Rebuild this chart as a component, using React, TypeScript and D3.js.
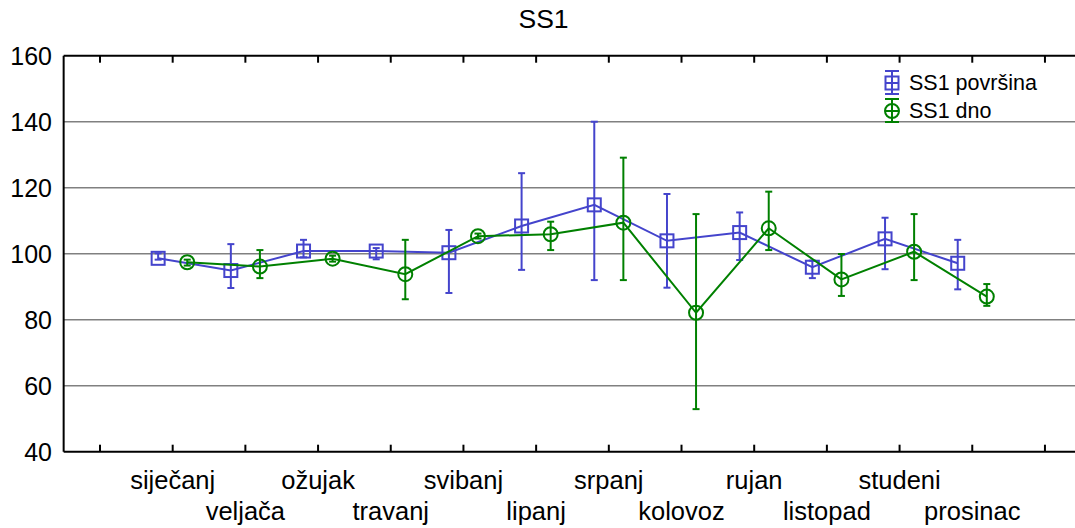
import React from "react";
import * as d3 from "d3";

const title = "SS1";
const months = ["siječanj", "veljača", "ožujak", "travanj", "svibanj", "lipanj", "srpanj", "kolovoz", "rujan", "listopad", "studeni", "prosinac"];
const seriesNames = ["SS1 površina", "SS1 dno"];

const povrsinaMean = [98.6, 94.9, 100.8, 100.8, 100.3, 108.4, 114.8, 103.9, 106.4, 95.9, 104.5, 97.1];
const povrsinaLow = [98.2, 89.6, 98.9, 98.3, 88.1, 95.1, 92.0, 89.7, 98.1, 92.6, 95.3, 89.2];
const povrsinaHigh = [100.1, 102.9, 104.2, 101.7, 107.2, 124.4, 140.0, 118.1, 112.5, 97.9, 110.9, 104.2];

const dnoMean = [97.4, 96.1, 98.5, 93.8, 105.3, 105.9, 109.4, 82.1, 107.7, 92.2, 100.6, 87.0];
const dnoLow = [96.4, 92.6, 97.6, 86.2, 104.6, 101.1, 92.0, 52.9, 101.1, 87.2, 92.0, 84.2];
const dnoHigh = [98.2, 101.1, 99.4, 104.2, 106.1, 109.7, 129.1, 112.0, 118.8, 99.9, 112.0, 90.8];

const yTicks = [40, 60, 80, 100, 120, 140, 160];

const W = 1075;
const H = 528;
const FONT = "'Liberation Sans', Arial, sans-serif";
const BLUE = "#4444CC";
const GREEN = "#008000";

export default function App() {
  const x = d3.scaleLinear().domain([-0.5, 13.5]).range([63.65, 1081.3]);
  const y = d3.scaleLinear().domain([40, 160]).range([451.7, 55.7]);
  const xTicks = d3.range(0, 14);
  const offset = 0.2;

  const series = [
    { name: seriesNames[0], mean: povrsinaMean, low: povrsinaLow, high: povrsinaHigh, color: BLUE, shape: "square", dx: -offset },
    { name: seriesNames[1], mean: dnoMean, low: dnoLow, high: dnoHigh, color: GREEN, shape: "circle", dx: offset },
  ];

  const [x0, x1] = x.range();
  const [yb, yt] = y.range();
  const cap = 3.5;
  const sq = 6.5;

  return (
    <svg width={W} height={H} style={{ position: "absolute", left: 0, top: 0, display: "block" }} fontFamily={FONT}>
      <rect x={0} y={0} width={W} height={H} fill="#fff" />
      <text x={W / 2 + 6} y={28} textAnchor="middle" fontSize={26.5} fill="#000">{title}</text>

      {/* gridlines */}
      {yTicks.filter((t) => t > 40 && t < 160).map((t) => (
        <line key={"g" + t} x1={x0} x2={x1} y1={y(t)} y2={y(t)} stroke="#808080" strokeWidth={1.5} />
      ))}

      {/* y tick labels */}
      {yTicks.map((t) => (
        <text key={"yl" + t} x={52} y={y(t)} dy="0.36em" textAnchor="end" fontSize={25} fill="#000">{t}</text>
      ))}

      {/* frame */}
      <line x1={x0} x2={x1} y1={yt} y2={yt} stroke="#000" strokeWidth={2} />
      <line x1={x0} x2={x1} y1={yb} y2={yb} stroke="#000" strokeWidth={2} />
      <line x1={x0} x2={x0} y1={yt} y2={yb} stroke="#000" strokeWidth={2} />
      <line x1={x1} x2={x1} y1={yt} y2={yb} stroke="#000" strokeWidth={2} />

      {/* x ticks */}
      {xTicks.map((t) => (
        <g key={"xt" + t}>
          <line x1={x(t)} x2={x(t)} y1={yt} y2={yt + 7} stroke="#000" strokeWidth={2} />
          <line x1={x(t)} x2={x(t)} y1={yb} y2={yb - 7} stroke="#000" strokeWidth={2} />
        </g>
      ))}

      {/* category labels */}
      {months.map((m, i) => (
        <text key={m} x={x(i + 1)} y={i % 2 === 0 ? 489 : 520} textAnchor="middle" fontSize={25.5} fill="#000">{m}</text>
      ))}

      {/* series */}
      {series.map((s) => {
        const ln = d3.line<number>().x((_, i) => x(i + 1 + s.dx)).y((d) => y(d));
        return (
          <g key={s.name}>
            <path d={ln(s.mean) || ""} fill="none" stroke={s.color} strokeWidth={2} />
            {s.mean.map((v, i) => {
              const cx = x(i + 1 + s.dx);
              return (
                <g key={i}>
                  <line x1={cx} x2={cx} y1={y(s.low[i])} y2={y(s.high[i])} stroke={s.color} strokeWidth={2} />
                  <line x1={cx - cap} x2={cx + cap} y1={y(s.low[i])} y2={y(s.low[i])} stroke={s.color} strokeWidth={2} />
                  <line x1={cx - cap} x2={cx + cap} y1={y(s.high[i])} y2={y(s.high[i])} stroke={s.color} strokeWidth={2} />
                  {s.shape === "square" ? (
                    <rect x={cx - sq} y={y(v) - sq} width={sq * 2} height={sq * 2} fill="none" stroke={s.color} strokeWidth={2} />
                  ) : (
                    <circle cx={cx} cy={y(v)} r={7} fill="none" stroke={s.color} strokeWidth={2} />
                  )}
                </g>
              );
            })}
          </g>
        );
      })}

      {/* legend */}
      {series.map((s, k) => {
        const cy = 83 + k * 28;
        const cx = 892;
        return (
          <g key={"lg" + k}>
            <line x1={cx} x2={cx} y1={cy - 12} y2={cy + 11} stroke={s.color} strokeWidth={2} />
            <line x1={cx - 7} x2={cx + 7} y1={cy - 12} y2={cy - 12} stroke={s.color} strokeWidth={2} />
            <line x1={cx - 7} x2={cx + 7} y1={cy + 11} y2={cy + 11} stroke={s.color} strokeWidth={2} />
            <line x1={cx - 7} x2={cx + 7} y1={cy} y2={cy} stroke={s.color} strokeWidth={2} />
            {s.shape === "square" ? (
              <rect x={cx - 6.5} y={cy - 6.5} width={13} height={13} fill="none" stroke={s.color} strokeWidth={2} />
            ) : (
              <circle cx={cx} cy={cy} r={7} fill="none" stroke={s.color} strokeWidth={2} />
            )}
            <text x={909} y={cy + 7} fontSize={21.5} fill="#000">{s.name}</text>
          </g>
        );
      })}
    </svg>
  );
}
